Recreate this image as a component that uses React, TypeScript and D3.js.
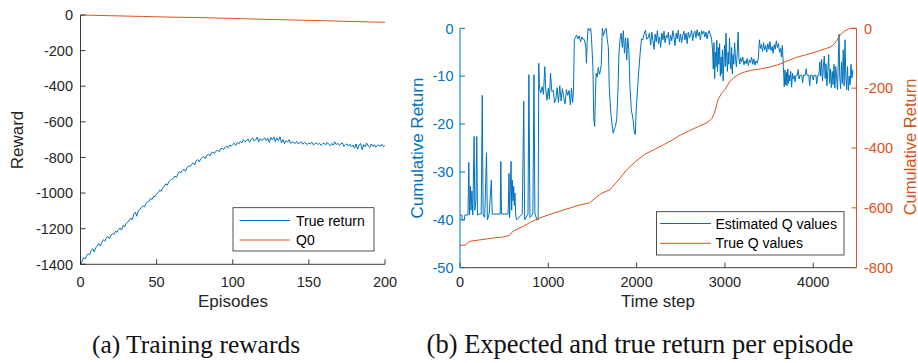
import React from "react";
import * as d3 from "d3";

// ---------- (a) training rewards ----------
const episodeTicks = [0, 50, 100, 150, 200];
const rewardTicks = [0, -200, -400, -600, -800, -1000, -1200, -1400];

// true return per episode (episodes 0..200)
const trueReturn = [
  -1400, -1385, -1362, -1370, -1352, -1340, -1348, -1322, -1312, -1330,
  -1306, -1298, -1284, -1296, -1276, -1262, -1270, -1250, -1244, -1256,
  -1236, -1228, -1232, -1214, -1220, -1204, -1196, -1208, -1182, -1190,
  -1170, -1164, -1152, -1140, -1150, -1118, -1108, -1130, -1098, -1092,
  -1080, -1072, -1078, -1058, -1050, -1046, -1030, -1036, -1018, -1020,
  -1004, -998, -984, -990, -970, -962, -948, -956, -936, -930,
  -922, -916, -904, -912, -892, -880, -886, -872, -866, -878,
  -856, -848, -852, -838, -830, -842, -818, -812, -824, -808,
  -800, -796, -806, -788, -782, -792, -774, -770, -778, -764,
  -760, -768, -752, -748, -756, -742, -738, -746, -730, -736,
  -728, -720, -732, -716, -724, -710, -718, -700, -712, -706,
  -696, -714, -700, -690, -708, -702, -686, -712, -694, -704,
  -698, -690, -706, -692, -716, -688, -700, -684, -712, -690,
  -706, -684, -718, -700, -722, -706, -714, -700, -720, -712,
  -716, -722, -710, -724, -718, -712, -726, -716, -720, -728,
  -718, -724, -714, -730, -722, -718, -728, -720, -732, -724,
  -720, -730, -716, -726, -734, -722, -730, -712, -728, -720,
  -732, -722, -718, -738, -728, -724, -736, -726, -740, -730,
  -748, -724, -754, -730, -722, -756, -728, -740, -720, -736,
  -744, -724, -738, -728, -742, -732, -730, -738, -726, -740,
  -732,
];

// Q0 estimate, sampled every 20 episodes
const q0Episodes = [0, 20, 40, 60, 80, 100, 120, 140, 160, 180, 200];
const q0Values = [0, -4, -8, -12, -15, -19, -24, -28, -32, -37, -41];

// ---------- (b) expected vs true return ----------
const stepTicks = [0, 1000, 2000, 3000, 4000];
const estTicks = [0, -10, -20, -30, -40, -50];
const trueTicks = [0, -200, -400, -600, -800];

const estSteps = [
  0, 20, 25, 50, 55, 90, 100, 108, 118, 125, 135, 145, 160, 168, 180, 190, 198, 215, 240, 252,
  262, 280, 300, 310, 330, 355, 365, 455, 462, 470, 545, 555, 562, 578, 585, 592, 600, 608, 615, 622,
  630, 640, 705, 722, 732, 770, 780, 792, 825, 838, 848, 870, 885,
  892, 900, 915, 930, 945, 960, 972, 985, 1000, 1012, 1025, 1040, 1058, 1070, 1085, 1100, 1115, 1130,
  1145, 1160, 1175, 1190, 1205, 1220, 1235, 1250, 1262, 1275, 1285,
  1295, 1305, 1320, 1335, 1350, 1365, 1380, 1395, 1410, 1425, 1432, 1440, 1450, 1465, 1480, 1490,
  1505, 1515, 1525, 1535, 1542, 1555, 1565, 1580, 1590, 1600, 1612, 1625, 1640, 1655, 1668, 1680,
  1690, 1705, 1720, 1735, 1748, 1760, 1775, 1790, 1800, 1812, 1825, 1838, 1850, 1862, 1875, 1888,
  1900, 1912, 1925, 1940, 1960, 1975, 1985, 1995, 2010, 2025, 2040, 2055, 2070, 2085, 2100, 2115, 2130,
  2145, 2160, 2172, 2185, 2198, 2210, 2222, 2235, 2248, 2260, 2272, 2285, 2298, 2310, 2322, 2335,
  2348, 2360, 2372, 2385, 2398, 2410, 2422, 2435, 2448, 2460, 2472, 2485, 2498, 2510, 2522, 2535,
  2548, 2560, 2572, 2585, 2598, 2610, 2622, 2635, 2648, 2660, 2672, 2685, 2698, 2710, 2722, 2735,
  2748, 2760, 2772, 2785, 2798, 2810, 2822, 2835, 2848,
  2860, 2868, 2876, 2884, 2892, 2900, 2908, 2916, 2924, 2932, 2940, 2948, 2956, 2964, 2972, 2980,
  2988, 2996, 3004, 3012, 3020, 3028, 3036, 3044, 3052, 3060, 3068, 3076, 3084, 3092, 3100, 3110,
  3120, 3130, 3140, 3150, 3158, 3168, 3178, 3190, 3202, 3215, 3228, 3240, 3252, 3265, 3278, 3290,
  3302, 3315, 3328, 3340, 3352, 3365, 3378,
  3390, 3402, 3414, 3426, 3438, 3450, 3462, 3474, 3486, 3498, 3510, 3522, 3534, 3546, 3558, 3570,
  3582, 3594, 3606, 3618, 3630, 3640, 3650,
  3662, 3672, 3680, 3688, 3696, 3704, 3712, 3720, 3728, 3736, 3745, 3755, 3765, 3775, 3785, 3795,
  3805, 3820, 3830, 3840, 3850, 3870, 3880, 3890, 3910, 3920, 3930, 3950, 3960, 3970, 3990, 4000,
  4010, 4030, 4040, 4050, 4065, 4075, 4085, 4095, 4105, 4115, 4125, 4135, 4145, 4155, 4165, 4175,
  4185, 4195, 4205,
  4215, 4225, 4235, 4245, 4255, 4265, 4275, 4285, 4292, 4300, 4310, 4320, 4330, 4340, 4350, 4360,
  4368, 4378, 4388, 4398, 4408, 4418, 4428, 4438, 4450,
];

const estQ = [
  -39, -39, -40, -40, -39, -39, -28, -39, -33, -38, -34, -39, -22.6, -38, -36, -22.6, -39, -38.8, -38.8, -14,
  -39, -39.5, -26, -40, -38.8, -31.7, -38.8, -38.8, -27.8, -38.8, -38.8, -30.3, -39.5, -27.8, -38, -31.7, -36, -33, -37, -34.4,
  -38.8, -40, -38.8, -15.2, -40, -38.8, -9.7, -39.5, -38.8, -9.7, -38.5, -40, -40,
  -7.3, -12.5, -13.5, -12.2, -13.8, -8, -13, -15, -12.5, -14.8, -9.4, -13.2, -13, -15.6, -14.8, -12.4, -15.5, -12,
  -15.2, -12.6, -14.5, -15.8, -12.8, -14, -13, -16, -12.5, -15.5, -13.2,
  -2.4, -2, -1.4, -2.2, -1.6, -2.8, -1.8, -2.3, -2.4, -4, -7.3, -3, 0, -0.5, 0, -2.4,
  -8, -19, -20.5, -13, -9.4, -10.2, -8.2, -9.6, -8.8, -7.6, 0, -1.5, -0.5, 0, -2.4, -4,
  -12.2, -17, -19.8, -21.9, -21, -20.5, -19, -12.2, -5.2, -2.4, -1, -4, -0.5, -5.2, -2, -6.6,
  -2, -4.5, -12.2, -17, -19.1, -21.9, -22.2, -17, -12.9, -8.7, -5.2, -2.2, -2.4, -1.2, -0.4, -2.3, -2,
  -1, -3.5, -0.8, -2.5, -4.4, -1.2, -2.8, -0.5, -3.2, -1.8, -4, -1, -2.4, -0.6, -3, -1.5,
  -2, -0.8, -3.4, -1.4, -2.6, -0.5, -1.8, -3.6, -1, -2.2, -0.4, -2.8, -1.2, -3, -1.6, -0.6,
  -2.4, -1, -3.2, -0.8, -2, -1.4, -0.4, -2.6, -1, -0.6, -2, -0.3, -1.6, -0.8, -2.4, -0.5,
  -1.2, -0.6, -1.8, -0.8, -2.2, -1, -0.5, -1.4, -2,
  -4.5, -8.5, -3, -10.5, -5, -8, -2.5, -9, -4, -7.5, -3.2, -10, -6, -9.5, -4.5, -11,
  -6.5, -3.5, -8, -1, -6, -9, -5, -7.5, -2, -6.5, -8.5, -4, -9.5, -5.5, -7.5, -3,
  -6.5, -8, -5, -0.8, -6, -7.5, -6.2, -7, -6, -7.6, -6.8, -7.4, -6.3, -7.8, -6.6, -7.2,
  -6, -7.5, -6.4, -7.7, -6.8, -7.3, -6.5,
  -2.4, -4.2, -3.4, -4.8, -3, -4.5, -3.6, -5, -3.2, -4.4, -2.8, -4.6, -3.8, -5.2, -3.4, -4.4,
  -2.6, -4, -3.2, -5, -4.2, -6, -3.6,
  -8, -12.2, -8.7, -11.8, -9.2, -12, -8.5, -11.5, -9.8, -11, -9, -12.3, -9.4, -10.6, -9.9, -11.2,
  -9.8, -9.8, -8.6, -10.6, -9.8, -9.8, -11.4, -9.8, -9.8, -8.4, -9.8, -9.8, -12, -9.8, -9.8, -10.8,
  -9.8, -9.8, -11.6, -9.8, -9.8, -7, -10, -6.5, -11, -8, -5.8, -10.5, -7.4, -12, -9, -5.5,
  -11.5, -8.5, -12.4,
  -9, -11.8, -7.5, -12.5, -8, -10.5, -12.8, -6, -1.2, -10, -12.6, -7, -11.5, -4.5, -12, -2.4,
  -9.5, -12.8, -8, -13, -10, -11.8, -7.5, -10.4, -8.6,
];

const trueSteps = [
  0, 60, 110, 200, 300, 400, 500, 560, 600, 700, 800, 880, 1000, 1130, 1250, 1350, 1470, 1520, 1600, 1700,
  1800, 1890, 1980, 2100, 2200, 2300, 2400, 2500, 2600, 2700, 2800, 2850, 2880, 2920, 2960, 3000, 3050, 3100, 3150, 3200,
  3300, 3400, 3500, 3600, 3700, 3800, 3900, 4000, 4100, 4200, 4250, 4300, 4350, 4400, 4450, 4490,
];
const trueQ = [
  -725, -724, -712, -708, -704, -700, -697, -692, -678, -664, -648, -636, -624, -611, -600, -591, -583, -570, -552, -539,
  -505, -472, -447, -420, -405, -390, -374, -356, -342, -328, -315, -302, -285, -240, -218, -205, -180, -165, -155, -148,
  -140, -136, -130, -122, -110, -98, -90, -82, -72, -62, -48, -25, -10, -2, 0, 0,
];

const BLUE = "#0072BD";
const ORANGE = "#D95319";
const AXIS = "#262626";
const SANS = "'Liberation Sans', Arial, Helvetica, sans-serif";
const SERIF = "'Liberation Serif', 'Times New Roman', serif";
const TICK = 5;

function LeftPanel() {
  const x = d3.scaleLinear().domain([0, 200]).range([80.5, 385]);
  const y = d3.scaleLinear().domain([-1400, 0]).range([264.3, 15]);
  const line = d3.line<number>().x((_, i) => x(i)).y((d) => y(d));
  const qLine = d3
    .line<number>()
    .x((_, i) => x(q0Episodes[i]))
    .y((d) => y(d));
  const y0 = y(-1400);
  return (
    <g fontFamily={SANS}>
      <path d={line(trueReturn) ?? ""} fill="none" stroke={BLUE} strokeWidth={1} />
      <path d={qLine(q0Values) ?? ""} fill="none" stroke={ORANGE} strokeWidth={1} />
      {/* axes */}
      <line x1={x(0)} x2={x(0)} y1={y(0)} y2={y0} stroke={AXIS} strokeWidth={0.9} />
      <line x1={x(0)} x2={x(200)} y1={y0} y2={y0} stroke={AXIS} strokeWidth={0.9} />
      {rewardTicks.map((t) => (
        <g key={t}>
          <line x1={x(0)} x2={x(0) + TICK} y1={y(t)} y2={y(t)} stroke={AXIS} strokeWidth={0.9} />
          <text x={73} y={y(t)} dy="0.36em" textAnchor="end" fontSize={14.5} fill={AXIS}>
            {t}
          </text>
        </g>
      ))}
      {episodeTicks.map((t) => (
        <g key={t}>
          <line x1={x(t)} x2={x(t)} y1={y0} y2={y0 - TICK} stroke={AXIS} strokeWidth={0.9} />
          <text x={x(t)} y={287} textAnchor="middle" fontSize={14.5} fill={AXIS}>
            {t}
          </text>
        </g>
      ))}
      <text x={233} y={307} textAnchor="middle" fontSize={17} fill={AXIS}>
        Episodes
      </text>
      <text transform="translate(23,140) rotate(-90)" textAnchor="middle" fontSize={17} fill={AXIS}>
        Reward
      </text>
      {/* legend */}
      <rect x={233} y={207.7} width={141} height={43.3} fill="#fff" stroke={AXIS} strokeWidth={0.8} />
      <line x1={239.5} x2={290} y1={220.5} y2={220.5} stroke={BLUE} strokeWidth={1} />
      <line x1={239.5} x2={290} y1={240} y2={240} stroke={ORANGE} strokeWidth={1} />
      <text x={296} y={220.5} dy="0.36em" fontSize={14} fill="#000">
        True return
      </text>
      <text x={296} y={240} dy="0.36em" fontSize={14} fill="#000">
        Q0
      </text>
    </g>
  );
}

function RightPanel() {
  const x = d3.scaleLinear().domain([0, 4490]).range([460, 856.5]);
  const yL = d3.scaleLinear().domain([-50, 0]).range([267.7, 28.3]);
  const yR = d3.scaleLinear().domain([-800, 0]).range([267.7, 28.3]);
  const estLine = d3
    .line<number>()
    .x((_, i) => x(estSteps[i]))
    .y((d) => yL(d));
  const trueLine = d3
    .line<number>()
    .x((_, i) => x(trueSteps[i]))
    .y((d) => yR(d));
  const yb = yL(-50);
  const xr = x(4490);
  return (
    <g fontFamily={SANS}>
      <path d={estLine(estQ) ?? ""} fill="none" stroke={BLUE} strokeWidth={1} strokeLinejoin="round" />
      <path d={trueLine(trueQ) ?? ""} fill="none" stroke={ORANGE} strokeWidth={1} />
      {/* bottom axis */}
      <line x1={x(0)} x2={xr} y1={yb} y2={yb} stroke={AXIS} strokeWidth={0.9} />
      {stepTicks.map((t) => (
        <g key={t}>
          <line x1={x(t)} x2={x(t)} y1={yb} y2={yb - TICK} stroke={AXIS} strokeWidth={0.9} />
          <text x={x(t)} y={287} textAnchor="middle" fontSize={14.5} fill={AXIS}>
            {t}
          </text>
        </g>
      ))}
      <text x={658} y={307} textAnchor="middle" fontSize={17} fill={AXIS}>
        Time step
      </text>
      {/* left axis */}
      <line x1={x(0)} x2={x(0)} y1={yL(0)} y2={yb} stroke={BLUE} strokeWidth={1} />
      {estTicks.map((t) => (
        <g key={t}>
          <line x1={x(0)} x2={x(0) + TICK} y1={yL(t)} y2={yL(t)} stroke={BLUE} strokeWidth={1} />
          <text x={453.5} y={yL(t)} dy="0.36em" textAnchor="end" fontSize={14.5} fill={BLUE}>
            {t}
          </text>
        </g>
      ))}
      <text transform="translate(423,148) rotate(-90)" textAnchor="middle" fontSize={17} fill={BLUE}>
        Cumulative Return
      </text>
      {/* right axis */}
      <line x1={xr} x2={xr} y1={yR(0)} y2={yb} stroke={ORANGE} strokeWidth={1} />
      {trueTicks.map((t) => (
        <g key={t}>
          <line x1={xr - TICK} x2={xr} y1={yR(t)} y2={yR(t)} stroke={ORANGE} strokeWidth={1} />
          <text x={864} y={yR(t)} dy="0.36em" textAnchor="start" fontSize={14.5} fill={ORANGE}>
            {t}
          </text>
        </g>
      ))}
      <text transform="translate(915.5,147) rotate(-90)" textAnchor="middle" fontSize={16.5} fill={ORANGE}>
        Cumulative Return
      </text>
      {/* legend */}
      <rect x={656.5} y={211.7} width={187.5} height={43.3} fill="#fff" stroke={AXIS} strokeWidth={0.8} />
      <line x1={660} x2={711} y1={223.5} y2={223.5} stroke={BLUE} strokeWidth={1} />
      <line x1={660} x2={711} y1={243.3} y2={243.3} stroke={ORANGE} strokeWidth={1} />
      <text x={715.5} y={223.5} dy="0.36em" fontSize={14} fill="#000">
        Estimated Q values
      </text>
      <text x={715.5} y={243.3} dy="0.36em" fontSize={14} fill="#000">
        True Q values
      </text>
    </g>
  );
}

export default function App() {
  return (
    <svg
      width={918}
      height={363}
      viewBox="0 0 918 363"
      style={{ position: "absolute", left: 0, top: 0, background: "#fff" }}
    >
      <rect width={918} height={363} fill="#fff" />
      <LeftPanel />
      <RightPanel />
      <text x={196} y={353} textAnchor="middle" fontFamily={SERIF} fontSize={25.5} fill="#111">
        (a) Training rewards
      </text>
      <text x={640} y={353} textAnchor="middle" fontFamily={SERIF} fontSize={26.5} fill="#111">
        (b) Expected and true return per episode
      </text>
    </svg>
  );
}
